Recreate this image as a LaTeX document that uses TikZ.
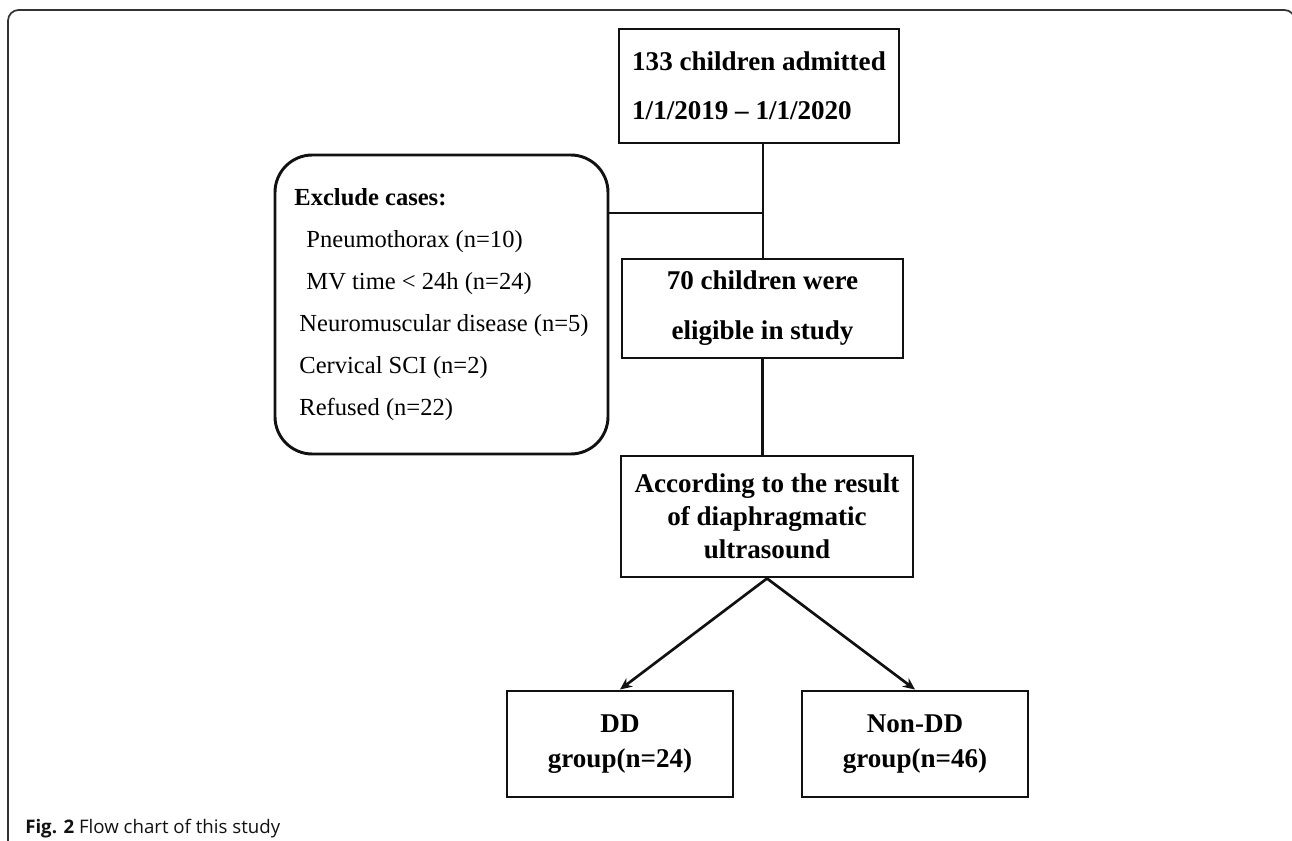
\documentclass[tikz,border=0pt]{standalone}
\usepackage{fontspec}
\setmainfont{Liberation Serif}
\newfontfamily\captionfont{Open Sans}
\usetikzlibrary{arrows.meta,calc}
\definecolor{flink}{HTML}{111111}
\definecolor{flframe}{HTML}{333333}
\tikzset{
  fl box/.style={draw=flink, line width=2.2pt, fill=white, align=center, inner sep=0pt,
    font=\fontsize{20.3}{24.75}\selectfont\bfseries},
  fl round/.style={draw=flink, line width=2.2pt, rounded corners=28pt, align=left, inner sep=0pt,
    minimum width=249.75pt, minimum height=224.25pt, font=\fontsize{18.4}{31.5}\selectfont},
  fl line/.style={draw=flink, line width=2pt},
  fl arrow/.style={fl line, -{Stealth[length=9pt,width=8pt]}},
  fl caption/.style={font=\captionfont\fontsize{14}{16}\selectfont, text=flink, inner sep=0pt}
}

\begin{document}
\begin{tikzpicture}[x=0.75pt, y=-0.75pt]
  \useasboundingbox (0,0) rectangle (1292,841);
  % page frame
  \draw[flframe, line width=1.3pt, rounded corners=8pt] (8,845) -- (8,10) -- (1295,10) -- (1295,845);

  % boxes
  \node[fl box, align=left, minimum width=210pt, minimum height=85.5pt,
    font=\fontsize{20.3}{36.75}\selectfont\bfseries] (admit) at (759,86)
    {133 children admitted\\1/1/2019 -- 1/1/2020};
  \node[fl box, minimum width=210.75pt, minimum height=74.25pt,
    font=\fontsize{20.3}{37.5}\selectfont\bfseries] (elig) at (762.5,308.5)
    {70 children were\\eligible in study};
  \node[fl box, minimum width=219pt, minimum height=90.75pt] (accord) at (767,516.5)
    {According to the result\\of diaphragmatic\\ultrasound};
  \node[fl box, minimum width=169.5pt, minimum height=79.5pt,
    font=\fontsize{20.3}{26.25}\selectfont\bfseries] (dd) at (620,744) {DD\\group(n=24)};
  \node[fl box, minimum width=169.5pt, minimum height=79.5pt,
    font=\fontsize{20.3}{26.25}\selectfont\bfseries] (nondd) at (915,744) {Non-DD\\group(n=46)};
  \node[fl round] (excl) at (441.5,304.5)
    {\textbf{Exclude cases:}\\
     \hspace*{9pt}Pneumothorax (n=10)\\
     \hspace*{9pt}MV time < 24h (n=24)\\
     \hspace*{3.75pt}Neuromuscular disease (n=5)\\
     \hspace*{3.75pt}Cervical SCI (n=2)\\
     \hspace*{3.75pt}Refused (n=22)};

  % connectors
  \coordinate (join) at (763,213);
  \draw[fl line] (admit.south -| join) -- (elig.north -| join);
  \draw[fl line] (excl.east |- join) -- (join);
  \draw[fl line] (elig.south) -- (elig.south |- accord.north);
  \draw[fl arrow] (accord.south) -- (dd.north);
  \draw[fl arrow] (accord.south) -- (nondd.north);

  \node[fl caption, anchor=base west] (cap) at (25,833) {\textbf{Fig. 2} Flow chart of this study};
\end{tikzpicture}
\end{document}
